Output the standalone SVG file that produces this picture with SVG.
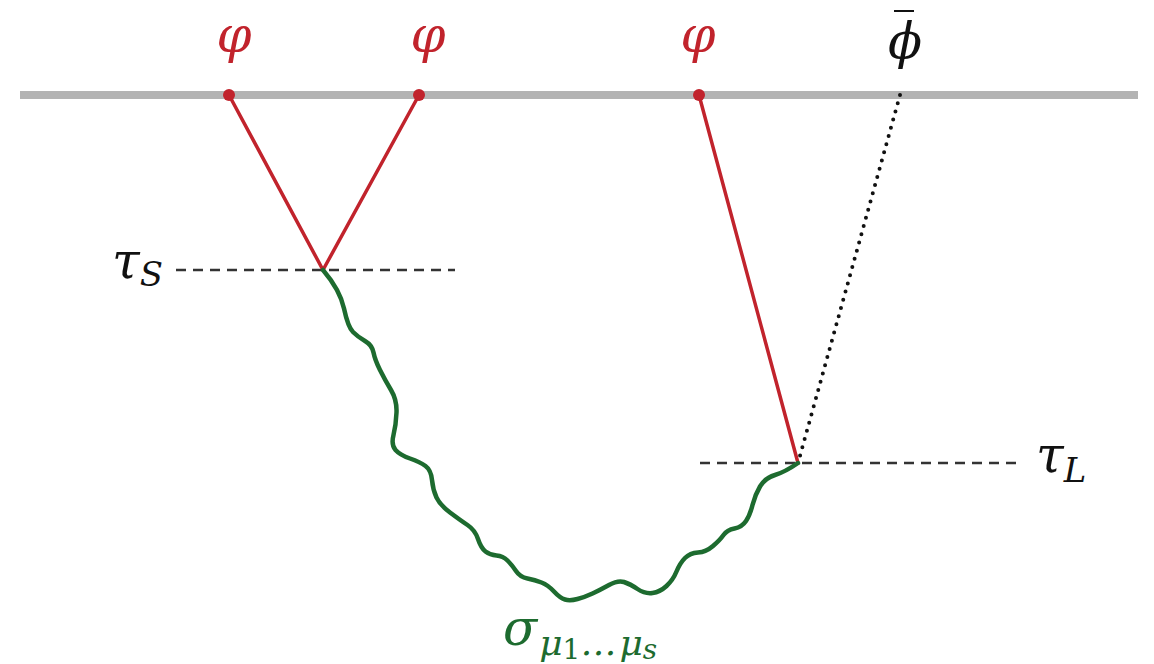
<svg xmlns="http://www.w3.org/2000/svg" width="1154" height="664" viewBox="0 0 1154 664">
<style>
.red{stroke:#c1232c;stroke-width:3.5;fill:none;stroke-linecap:round}
.dash{stroke:#333;stroke-width:2.5;stroke-dasharray:10 7;fill:none}
.dot{stroke:#111;stroke-width:4;stroke-dasharray:0 8.5;stroke-linecap:round;fill:none}
.wave{stroke:#1d6b2f;stroke-width:4.5;fill:none;stroke-linecap:round;stroke-linejoin:round}
.lbl{font-family:"DejaVu Serif","Liberation Serif",serif;font-style:italic}
.rl{fill:#c1232c;font-size:50px}
.bl{fill:#111;font-size:50px}
.gl{fill:#1d6b2f;font-size:50px}
</style>
<rect width="1154" height="664" fill="#fff"/>
<g id="boundary">
<line x1="20" y1="95" x2="1138" y2="95" stroke="#b3b3b3" stroke-width="8"/>
</g>
<g id="connectors">
<line class="dash" x1="176" y1="270" x2="455" y2="270"/>
<line class="dash" x1="700" y1="463" x2="1020" y2="463"/>
<line class="red" x1="229" y1="95" x2="323" y2="270"/>
<line class="red" x1="419" y1="95" x2="323" y2="270"/>
<line class="red" x1="699" y1="95" x2="798" y2="463"/>
<line class="dot" x1="900" y1="95" x2="798" y2="463"/>
<path class="wave" d="M323,270 Q340,290 344,308.5 Q348,327 353,332 Q358,337 365,341 Q372,345 373.5,352.5 Q375,360 380,370 Q385,380 391,390 Q397,400 396.5,412.5 Q396,425 393.5,435 Q391,445 395.5,450 Q400,455 410,458.5 Q420,462 425.5,466 Q431,470 432,480 Q433,490 436.5,497.5 Q440,505 450,512.5 Q460,520 467.5,525 Q475,530 478,539 Q481,548 485.5,551.5 Q490,555 496.5,555.5 Q503,556 507.5,560.5 Q512,565 516,571 Q520,577 527.5,578.5 Q535,580 541.5,582.5 Q548,585 554,591.5 Q560,598 565,599.5 Q570,601 577.5,599 Q585,597 592.5,593.5 Q600,590 609,585 Q618,580 624,582 Q630,584 637.5,589 Q645,594 652.5,593 Q660,592 666.5,586 Q673,580 676.5,571.5 Q680,563 685,558 Q690,553 698,552.5 Q706,552 713,546 Q720,540 723.5,535 Q727,530 734.5,528.5 Q742,527 746,521 Q750,515 752.5,505 Q755,495 760,486.5 Q765,478 775,475 Q785,472 798,463"/>
</g>
<g id="phi1">
<circle cx="229" cy="95" r="6" fill="#c1232c"/>
<text class="lbl rl" x="234" y="52" text-anchor="middle">φ</text>
</g>
<g id="phi2">
<circle cx="419" cy="95" r="6" fill="#c1232c"/>
<text class="lbl rl" x="428" y="52" text-anchor="middle">φ</text>
</g>
<g id="phi3">
<circle cx="699" cy="95" r="6" fill="#c1232c"/>
<text class="lbl rl" x="698" y="52" text-anchor="middle">φ</text>
</g>
<g id="phibar">
<text class="lbl bl" x="905" y="58" text-anchor="middle">ϕ</text>
<line x1="894" y1="11" x2="914" y2="11" stroke="#111" stroke-width="2"/>
</g>
<g id="tauS">
<text class="lbl bl" x="112" y="278">τ<tspan font-size="34" dy="8">S</tspan></text>
</g>
<g id="tauL">
<text class="lbl bl" x="1036" y="472">τ<tspan font-size="34" dy="10">L</tspan></text>
</g>
<g id="sigma">
<text class="lbl gl" x="503" y="645">σ<tspan font-size="36" dy="10" dx="2">μ</tspan><tspan font-size="28" dy="4" font-style="normal">1</tspan><tspan font-size="36" dy="-4" letter-spacing="3">…</tspan><tspan font-size="36">μ</tspan><tspan font-size="28" dy="4">s</tspan></text>
</g>
</svg>
